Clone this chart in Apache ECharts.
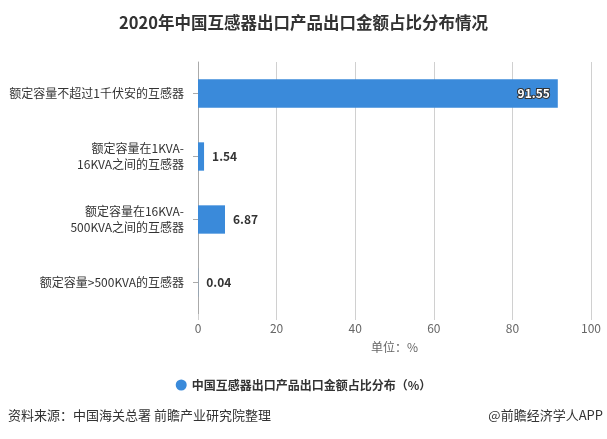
<!DOCTYPE html>
<html><head><meta charset="utf-8">
<script src="https://cdn.jsdelivr.net/npm/echarts@6/dist/echarts.min.js"></script>
<style>html,body{margin:0;padding:0;background:#fff}#c{width:607px;height:439px}</style>
</head><body><div id="c"></div>
<script>
var categories = ['额定容量不超过1千伏安的互感器', '额定容量在1KVA-\n16KVA之间的互感器', '额定容量在16KVA-\n500KVA之间的互感器', '额定容量>500KVA的互感器'];
var values = [91.55, 1.54, 6.87, 0.04];
var seriesName = '中国互感器出口产品出口金额占比分布（%）';
var xTicks = [0, 20, 40, 60, 80, 100];

var font = '"Noto Sans CJK SC", "Microsoft YaHei", sans-serif';
var chart = echarts.init(document.getElementById('c'));
var data = values.map(function (v, i) {
  if (i === 0) {
    return { value: v, label: { position: 'insideRight', color: '#fff', textBorderColor: '#333', textBorderWidth: 2 } };
  }
  return v;
});
chart.setOption({
  animation: false,
  textStyle: { fontFamily: font },
  title: {
    text: '2020年中国互感器出口产品出口金额占比分布情况',
    left: 'center', top: 9,
    textStyle: { fontSize: 16.5, fontWeight: 'bold', color: '#333', fontFamily: font }
  },
  legend: {
    data: [seriesName], left: 'center', top: 374, icon: 'circle', itemWidth: 11, itemHeight: 11, itemGap: 6,
    textStyle: { fontSize: 12, fontWeight: 'bold', color: '#333', fontFamily: font }
  },
  grid: { left: 198, right: 16, top: 62, bottom: 125 },
  xAxis: {
    type: 'value', min: 0, max: 100, interval: 20,
    name: '单位：%', nameLocation: 'middle', nameGap: 27,
    nameTextStyle: { color: '#666', fontSize: 12 },
    axisLine: { show: false },
    axisTick: { show: true, length: 6, lineStyle: { color: '#d0d0d0' } },
    axisLabel: { color: '#666', fontSize: 12, margin: 8, formatter: function (v) { return xTicks.indexOf(v) >= 0 ? String(v) : ''; } },
    splitLine: { show: true, lineStyle: { color: '#d0d0d0' } }
  },
  yAxis: {
    type: 'category', data: categories, inverse: true,
    axisLine: { show: true, lineStyle: { color: '#aaa' } },
    axisTick: { show: true, alignWithLabel: true, length: 5, lineStyle: { color: '#aaa' } },
    axisLabel: { color: '#333', fontSize: 12, lineHeight: 16, margin: 14, align: 'right' }
  },
  series: [{
    name: seriesName, type: 'bar', data: data, barWidth: '45%',
    itemStyle: { color: '#3a8ada' },
    label: { show: true, position: 'right', distance: 8, color: '#333', fontWeight: 'bold', fontSize: 12 }
  }],
  graphic: [
    { type: 'text', left: 8, top: 409, style: { text: '资料来源：中国海关总署 前瞻产业研究院整理', fill: '#333', font: '13px ' + font } },
    { type: 'text', right: 4, top: 409, style: { text: '@前瞻经济学人APP', fill: '#333', font: '13px ' + font } }
  ]
});
</script></body></html>
